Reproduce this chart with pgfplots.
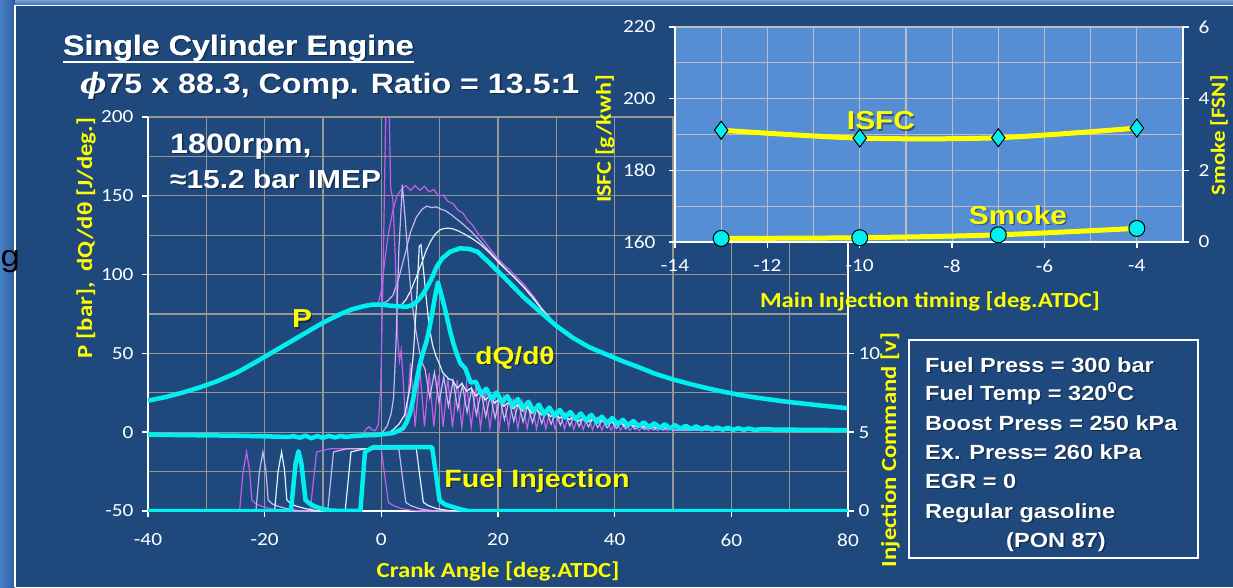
\documentclass[border=0pt]{standalone}
\usepackage{fontspec}
\setmainfont{Liberation Sans}[FakeStretch=1.15]
\newfontfamily\calfont{Carlito}[FakeStretch=1.15]
\newfontfamily\dvs{DejaVu Serif}
\usepackage{pgfplots}
\pgfplotsset{compat=1.18}
\definecolor{bg}{RGB}{31,73,125}
\definecolor{ibg}{RGB}{85,142,213}
\definecolor{cy}{RGB}{0,240,240}
\definecolor{pu}{RGB}{196,92,236}
\definecolor{la}{RGB}{200,182,242}
\definecolor{wh}{RGB}{222,243,250}
\definecolor{gr}{RGB}{150,150,150}
\definecolor{igr}{RGB}{190,190,190}
\definecolor{yl}{RGB}{255,255,0}
\newcommand{\stxt}[4]{%
 \node[#1,text=black,opacity=0.4,xshift=1.5pt,yshift=-1.5pt] at (#2) {#4};%
 \node[#1,text=#3] at (#2) {#4};}
\pgfplotsset{
 common/.style={
  scale only axis, anchor=south west,
  axis line style={white,line width=1.8pt},
  tick style={white,line width=1.5pt},
  major tick length=6pt, minor tick length=0pt, tick align=outside,
  ticklabel style={white,font=\calfont\fontsize{18.5}{18.5}\selectfont},
  /pgf/number format/assume math mode=true,
 }
}
\begin{document}
\begin{tikzpicture}
\fill[bg] (0pt,0pt) rectangle (1233pt,-587pt);
\shade[left color={rgb,255:red,70;green,128;blue,198}, right color={rgb,255:red,45;green,95;blue,160}] (0pt,0pt) rectangle (15pt,-587pt);
\shade[top color={rgb,255:red,120;green,160;blue,215}, bottom color={rgb,255:red,60;green,110;blue,180}] (15pt,0pt) rectangle (1233pt,-5pt);
\draw[white,line width=1.5pt] (15pt,-587pt) -- (15pt,-5.5pt) -- (1233pt,-5.5pt);
\node[anchor=base west,inner sep=0pt,text=black,font=\fontsize{30}{30}\selectfont] at (0.5pt,-266pt) {g};

% ---------------- main axis: P and dQ/dtheta
\begin{axis}[common,
 at={(148pt,-511pt)}, width=700pt, height=394pt,
 xmin=-40, xmax=80, ymin=-50, ymax=200,
 xtick={-40,-20,...,80}, ytick={-50,0,...,200},
 minor x tick num=1, minor y tick num=1,
 grid=both, major grid style={gr,line width=1.2pt}, minor grid style={gr,line width=1.2pt},
 axis x line*=bottom, axis y line*=left,
 xticklabel style={yshift=-13pt}, yticklabel style={xshift=-5pt},
]
% thin pressure curves
\addplot[pu,line width=1.2pt] coordinates {(-3,80)(-1,81)(-0.5,82.5)(0,90)(0.6,109)(1.2,126)(2.0,141)(2.7,150)(3.5,154.5)(4.2,156.5)(5.0,153.5)(5.8,156.5)(6.6,153.5)(7.4,156)(8.2,152.5)(9.0,154)(9.8,150)(10.6,150.5)(11.4,146.5)(12.3,145)(13.1,141)(14.0,139)(14.9,134)(15.7,131)(16.6,126)(17.5,122)(18.6,116.5)(19.7,111.5)(20.8,107)(22.0,103)(23.2,98.5)(24.3,94.5)(25.5,89)(26.5,84)(27.5,78)(28.5,73.5)(30,67.5)};
\addplot[la,line width=1.2pt] coordinates {(-1,81)(0,81.5)(1,83)(2,87)(3,98)(4,112)(5,127)(6,136.5)(7,141.5)(7.8,143.5)(8.6,142.5)(9.4,143)(10.2,141.5)(11,140.5)(12,138)(13,135)(14,132)(15.5,127)(17,121)(18.5,115)(20,109)(21.5,103)(23,97.5)(24.5,92)(26,86)(27.5,78.5)(29,72)(30,67.5)};
\addplot[wh,line width=1.2pt] coordinates {(1,80.5)(2.5,80)(3.5,81)(4.2,84)(5,89.5)(6,98.5)(7,108)(7.7,115.5)(8.5,121.5)(9.2,125.5)(10,128.3)(10.7,129.2)(11.5,129.5)(12.3,129)(13.2,127.7)(14,126.2)(15.5,123)(16.9,119.5)(18.5,114)(19.7,109.3)(21,104.5)(22.6,99)(24.3,92.5)(26,85)(27.5,78)(29,72)(30,67.5)};
% thin heat release curves
\addplot[pu,line width=1.2pt] coordinates {(-4,-2)(-3.2,-1.5)(-2.6,2)(-2.1,3.5)(-1.6,1.5)(-1,1)(-0.5,5)(-0.1,30)(0.3,100)(0.7,190)(1.0,235)(1.3,215)(1.6,155)(2.0,147)(2.4,110)(2.8,60)(3.1,45)(3.4,52)(3.8,30)(4.2,4)(5.0,44)(5.8,3.5)(6.6,40)(7.4,3.5)(8.2,37.5)(9.0,3.5)(9.8,36)(10.6,3.5)(11.4,34.5)(12.2,3)(13.0,33)(13.8,3)(14.6,31)(15.4,3)(16.2,29)(17.0,2.8)(17.8,26.5)(18.6,2.6)(19.4,24.5)(20.2,2.5)(21.0,23)(21.8,2.4)(22.6,21)(23.4,2.3)(24.2,19.5)(25.0,2.2)(25.8,18)(26.6,2.1)(27.4,16.5)(28.2,2)(29.0,15)(29.8,1.9)(30.6,14)(31.4,1.8)(32.2,12.5)(33.0,1.7)(33.8,11.5)(34.6,1.6)(35.4,10.5)(36.2,1.5)(37.0,9.5)(37.8,1.4)(38.6,8)(39.4,1.3)(40.2,7)(41.0,1.2)(41.8,6)(42.6,1.1)(43.4,5)(44.2,1.0)(45.0,4.2)(45.8,1.0)(46.6,3.5)(47.4,1.0)(48.2,3)(49,1.0)(49.8,2.5)(50.6,1.0)(55,1.3)(80,1.2)};
\addplot[la,line width=1.2pt] coordinates {(-1,-1.8)(0,-1)(1,4)(1.7,12)(2.1,22)(2.5,55)(3.0,115)(3.6,157)(4.1,135)(4.6,110)(5.0,92)(5.4,78)(5.9,65)(6.5,52)(7.0,44)(7.5,40)(8.3,22)(9.1,38)(9.9,19)(10.7,35)(11.5,16.5)(12.3,32.5)(13.1,14.5)(13.9,30)(14.7,12.5)(15.5,27.5)(16.3,11)(17.1,25.5)(17.9,10)(18.7,23.5)(19.5,9)(20.3,21.5)(21.1,8)(21.9,20)(22.7,7)(23.5,18.5)(24.3,6.5)(25.1,17)(25.9,6)(26.7,15.5)(27.5,5.5)(28.3,14)(29.1,5)(29.9,13)(30.7,4.5)(31.5,12)(32.3,4)(33.1,11)(33.9,3.6)(34.7,10)(35.5,3.3)(36.3,9)(37.1,3)(37.9,8)(38.7,2.7)(39.5,7)(40.3,2.4)(41.1,6)(41.9,2.1)(42.7,5.2)(43.5,1.9)(44.3,4.5)(45.1,1.7)(45.9,3.8)(46.7,1.5)(47.5,3.2)(48.3,1.4)(49.1,2.7)(50,1.4)(55,1.5)(80,1.2)};
\addplot[wh,line width=1.2pt] coordinates {(0,-1.5)(1,-1)(2,1.5)(3,5)(4,11)(4.9,28)(5.5,50)(6.0,80)(6.5,118)(6.8,119)(7.3,100)(7.7,85)(8.2,67)(8.8,55)(9.4,48)(10.0,43)(10.5,38)(11.0,36)(11.5,34)(12.2,33)(13.0,28)(13.8,31)(14.6,26)(15.4,28)(16.2,23)(17.0,25.5)(17.8,20.5)(18.6,23)(19.4,18.5)(20.2,21)(21.0,16.5)(21.8,19)(22.6,15)(23.4,17.5)(24.2,13.5)(25.0,16)(25.8,12)(26.6,14.5)(27.4,11)(28.2,13)(29.0,10)(29.8,12)(30.6,9)(31.4,11)(32.2,8)(33.0,10)(33.8,7)(34.6,9)(35.4,6.5)(36.2,8.2)(37.0,5.8)(37.8,7.5)(38.6,5.2)(39.4,6.8)(40.2,4.6)(41.0,6)(41.8,4)(42.6,5.4)(43.4,3.6)(44.2,4.8)(45,3.2)(46,4.2)(47,2.8)(48,3.6)(49,2.5)(50,3.1)(52,2.4)(55,2)(60,1.7)(70,1.4)(80,1.2)};
% thick curves
\addplot[cy,line width=4.5pt,line join=round] coordinates {(-40,20)(-37,22.3)(-34,25.2)(-31,28.6)(-28,32.6)(-25,37.4)(-22,43.5)(-19,50)(-16,56.5)(-13,63)(-10,69.5)(-7,75)(-5,78)(-3,80)(-1.5,81)(0,81)(1.5,80.3)(3,79.8)(4.5,79.7)(5.5,81)(6.5,84.5)(7.2,88)(8,93)(8.8,99)(9.5,105)(10.5,110.5)(11.8,114.5)(13.5,116.7)(15,116.3)(16.5,114.5)(18.6,107.2)(21.5,96.6)(24.3,86)(27.2,76.5)(30,67.5)(32.8,60)(35.6,54)(38.5,49.5)(41.4,45)(44.3,41)(47,37)(50,33.5)(53,30.5)(55.8,28)(58.6,25.7)(61.5,23.6)(64.4,21.9)(67.3,20.4)(70,19.1)(73,17.9)(76.5,16.5)(80,15.2)};
\addplot[cy,line width=4.5pt,line join=round] coordinates {(-40,-1.5)(-35,-1.8)(-30,-2)(-25,-2.2)(-20,-2.6)(-16,-3)(-15,-2.5)(-14,-3.5)(-13,-2.2)(-12,-3.8)(-11,-2.4)(-10,-3.6)(-9,-2.3)(-8,-3.3)(-7,-2.4)(-6,-3)(-5,-2.5)(-3,-2)(-1,-1.8)(1,-1)(2,-0.5)(3,1)(3.7,2.5)(4.3,6)(4.9,12)(5.4,20)(5.9,30)(6.6,43)(7.2,51)(7.7,57)(8.2,65)(8.6,73)(9.2,86)(9.7,95)(10.3,87)(10.8,80)(11.3,72)(11.8,64)(12.3,57)(12.9,50)(13.5,44)(14.4,40.5)(15.3,31.5)(16.2,32)(17.1,24.5)(18.0,27.5)(18.9,21.1)(19.8,25.1)(20.7,19.1)(21.6,22.9)(22.5,17)(23.4,21.1)(24.3,15.2)(25.2,19.3)(26.1,13.4)(27.0,17.5)(27.9,11.6)(28.8,15.7)(29.7,10.4)(30.6,14.1)(31.5,9.4)(32.4,12.8)(33.3,8.3)(34.2,11.9)(35.1,7.4)(36.0,11)(36.9,6.5)(37.8,9.9)(38.7,5.8)(39.6,9)(40.5,5.1)(41.4,7.9)(42.3,4.4)(43.2,7.1)(44.1,3.8)(45.0,6.3)(45.9,3.2)(46.8,5.7)(47.7,2.8)(48.6,5.0)(49.5,2.4)(50.4,4.5)(51.3,2.1)(52.2,4.1)(53.1,1.95)(54.0,3.7)(54.9,1.8)(55.8,3.4)(56.7,1.7)(57.6,3.05)(58.5,1.6)(59.4,2.8)(60.3,1.5)(61.2,2.55)(62.1,1.5)(63.0,2.35)(63.9,1.5)(65,1.8)(70,1.6)(75,1.45)(80,1.3)};
\end{axis}

% ---------------- injection command (right axis)
\begin{axis}[common,
 at={(148pt,-511pt)}, width=700pt, height=394pt,
 xmin=-40, xmax=80, ymin=0, ymax=25,
 axis x line=none, axis y line*=right, ytick={0,5,10},
 yticklabel style={xshift=1pt},
]
\addplot[pu,line width=1.2pt] coordinates {(-40,0)(-24.3,0)(-23.7,2.5)(-23.1,3.75)(-22.6,2.6)(-22.2,0.7)(-21.5,0.45)(-20.5,0.3)(-19,0.15)(-17.5,0.05)(-16.5,0)(-12.2,0)(-11.1,3.75)(-8.8,3.95)(0.0,3.95)(0.6,2.2)(1.2,0.55)(2.0,0.35)(3.5,0.15)(5.5,0.03)(7,0)(80,0)};
\addplot[la,line width=1.2pt] coordinates {(-40,0)(-21.5,0)(-20.9,2.5)(-20.3,3.75)(-19.8,2.6)(-19.4,0.7)(-18.7,0.45)(-17.7,0.3)(-16.2,0.15)(-14.7,0.05)(-13.7,0)(-9.2,0)(-8.2,3.75)(-5.9,3.95)(3.0,3.95)(3.6,2.2)(4.2,0.55)(5.0,0.35)(6.5,0.15)(8.5,0.03)(10,0)(80,0)};
\addplot[wh,line width=1.2pt] coordinates {(-40,0)(-18.3,0)(-17.7,2.5)(-17.1,3.75)(-16.6,2.6)(-16.2,0.7)(-15.5,0.45)(-14.5,0.3)(-13,0.15)(-11.5,0.05)(-10.5,0)(-6.2,0)(-5.2,3.75)(-2.9,3.95)(6.0,3.95)(6.6,2.2)(7.2,0.55)(8.0,0.35)(9.5,0.15)(11.5,0.03)(13,0)(80,0)};
\addplot[cy,line width=4.5pt,line join=round] coordinates {(-40,0)(-15.5,0)(-14.7,3.0)(-14.2,3.8)(-13.7,3.0)(-13.0,0.7)(-12.4,0.5)(-11.5,0.3)(-10,0.12)(-8.5,0.02)(-3.6,0)(-2.8,3.75)(-1.4,4.05)(8.7,4.05)(9.3,2.5)(10.0,0.65)(11,0.4)(12.3,0.25)(14,0.06)(15,0)(80,0)};
\end{axis}

% ---------------- inset: ISFC and smoke
\begin{axis}[common,
 at={(675pt,-242pt)}, width=508pt, height=215pt,
 xmin=-14, xmax=-3, ymin=160, ymax=220,
 xtick={-14,-12,...,-4}, ytick={160,180,...,220},
 minor x tick num=1, minor y tick num=1,
 grid=both, major grid style={igr,line width=1.2pt}, minor grid style={igr,line width=1.2pt},
 axis background/.style={fill=ibg},
 axis x line*=bottom, axis y line*=left,
 axis line style={white,line width=2.5pt}, clip=false,
 xticklabel style={yshift=-8pt}, yticklabel style={xshift=-10pt},
]
\addplot[yl,line width=5pt,smooth,mark=diamond*,mark size=9pt,mark options={fill=cy,draw=black,line width=1pt}] coordinates {(-13,191.2)(-10,189)(-7,189.1)(-4,191.8)};
\end{axis}
\begin{axis}[common,
 at={(675pt,-242pt)}, width=508pt, height=215pt,
 xmin=-14, xmax=-3, ymin=0, ymax=6,
 axis x line=none, axis y line*=right, ytick={0,2,4,6},
 axis line style={white,line width=2.5pt}, clip=false,
 yticklabel style={xshift=6pt},
]
\addplot[yl,line width=5pt,smooth,mark=*,mark size=8pt,mark options={fill=cy,draw=black,line width=1pt}] coordinates {(-13,0.1)(-10,0.12)(-7,0.2)(-4,0.38)};
\end{axis}

% ---------------- texts
\stxt{anchor=base west,inner sep=0pt,font=\bfseries\fontsize{28}{28}\selectfont}{63pt,-55pt}{white}{Single Cylinder Engine}
\node[anchor=base west,inner sep=0pt,font=\bfseries\fontsize{28}{28}\selectfont,text=white] (t1) at (63pt,-55pt) {Single Cylinder Engine};
\draw[white,line width=2.5pt] ([yshift=-7pt]t1.base west) -- ([yshift=-7pt]t1.base east);
\stxt{anchor=base west,inner sep=0pt,font=\bfseries\fontsize{28}{28}\selectfont}{80pt,-93pt}{white}{{\dvs\itshape ϕ}75 x 88.3, Comp. Ratio = 13.5:1}
\stxt{anchor=base west,inner sep=0pt,font=\bfseries\fontsize{28}{28}\selectfont}{170pt,-153pt}{white}{1800rpm,}
\stxt{anchor=base west,inner sep=0pt,font=\bfseries\fontsize{26}{26}\selectfont}{170pt,-188pt}{white}{≈15.2 bar IMEP}

\stxt{inner sep=0pt,font=\bfseries\fontsize{26}{26}\selectfont}{302pt,-319pt}{yl}{P}
\stxt{inner sep=0pt,font=\bfseries\fontsize{24.5}{24.5}\selectfont}{515pt,-358pt}{yl}{dQ/dθ}
\stxt{inner sep=0pt,font=\bfseries\fontsize{25}{25}\selectfont}{537pt,-481pt}{yl}{Fuel Injection}
\stxt{inner sep=0pt,font=\bfseries\fontsize{26}{26}\selectfont}{881pt,-121pt}{yl}{ISFC}
\stxt{inner sep=0pt,font=\bfseries\fontsize{26}{26}\selectfont}{1018pt,-215pt}{yl}{Smoke}

\node[rotate=90,inner sep=0pt,text=yl,font=\calfont\bfseries\fontsize{21.5}{21.5}\selectfont] at (86pt,-238pt) {P [bar],\ \ dQ/dθ [J/deg.]};
\node[inner sep=0pt,text=yl,font=\calfont\bfseries\fontsize{21.5}{21.5}\selectfont] at (498pt,-571pt) {Crank Angle [deg.ATDC]};
\node[rotate=90,inner sep=0pt,text=yl,font=\calfont\bfseries\fontsize{21.5}{21.5}\selectfont] at (890pt,-450pt) {Injection Command [v]};
\node[rotate=90,inner sep=0pt,text=yl,font=\calfont\bfseries\fontsize{21}{21}\selectfont] at (605pt,-139pt) {ISFC [g/kwh]};
\node[inner sep=0pt,text=yl,font=\calfont\bfseries\fontsize{21.5}{21.5}\selectfont] at (930pt,-301pt) {Main Injection timing [deg.ATDC]};
\node[rotate=90,inner sep=0pt,text=yl,font=\calfont\bfseries\fontsize{20}{20}\selectfont] at (1219pt,-135pt) {Smoke [FSN]};

% text box
\draw[white,line width=1.5pt] (909pt,-340pt) rectangle (1198pt,-558pt);
\stxt{anchor=base west,inner sep=0pt,font=\bfseries\fontsize{20.5}{20.5}\selectfont}{925pt,-372pt}{white}{Fuel Press = 300 bar}
\stxt{anchor=base west,inner sep=0pt,font=\bfseries\fontsize{20.5}{20.5}\selectfont}{925pt,-400pt}{white}{Fuel Temp = 320\textsuperscript{0}C}
\stxt{anchor=base west,inner sep=0pt,font=\bfseries\fontsize{20.5}{20.5}\selectfont}{925pt,-430pt}{white}{Boost Press = 250 kPa}
\stxt{anchor=base west,inner sep=0pt,font=\bfseries\fontsize{20.5}{20.5}\selectfont}{925pt,-459pt}{white}{Ex. Press= 260 kPa}
\stxt{anchor=base west,inner sep=0pt,font=\bfseries\fontsize{20.5}{20.5}\selectfont}{925pt,-488pt}{white}{EGR = 0}
\stxt{anchor=base west,inner sep=0pt,font=\bfseries\fontsize{20.5}{20.5}\selectfont}{925pt,-518pt}{white}{Regular gasoline}
\stxt{anchor=base,inner sep=0pt,font=\bfseries\fontsize{20.5}{20.5}\selectfont}{1056pt,-547pt}{white}{(PON 87)}

\pgfresetboundingbox
\useasboundingbox (0pt,0pt) rectangle (1233pt,-587pt);
\end{tikzpicture}
\end{document}
